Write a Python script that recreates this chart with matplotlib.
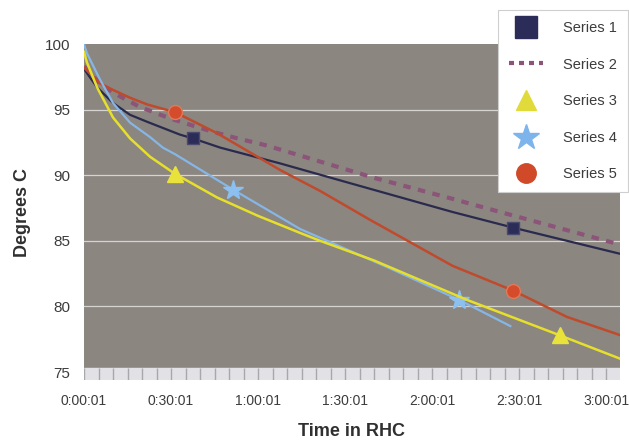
import numpy as np
import matplotlib
matplotlib.use("Agg")
from matplotlib import pyplot as plt
from matplotlib.lines import Line2D

plt.rcParams["font.family"] = ["Liberation Sans", "DejaVu Sans"]

# Data (cas v minutach, teplota ve stupnich C)
t1 = [0, 4.5, 10, 15.9, 22, 33, 37.6, 47, 67.6, 90, 127, 148, 185]
s1 = [98.1, 96.7, 95.5, 94.6, 94.05, 93.1, 92.8, 92.1, 90.9, 89.5, 87.2, 86.0, 84.0]
m1 = [6, 11]  # indexy znacek

t2 = [0, 5, 10, 19.3, 30, 44.5, 53, 62.4, 79, 100, 127, 143.4, 185]
s2 = [98.3, 97.1, 96.3, 95.2, 94.3, 93.3, 92.8, 92.3, 91.2, 89.8, 88.2, 87.2, 84.7]

t3 = [0, 1, 4.5, 10, 15.9, 22.8, 31.4, 45.9, 60, 74.5, 81.4, 100, 132, 164, 185]
s3 = [99.4, 98.6, 96.7, 94.4, 92.8, 91.4, 90.1, 88.3, 86.9, 85.6, 85.0, 83.5, 80.5, 77.8, 76.0]
m3 = [6, 13]

t4 = [0, 1, 5.5, 10, 15.9, 22.8, 27.2, 31.4, 51.4, 74.5, 104.5, 129.3, 147]
s4 = [100.0, 99.3, 97.3, 95.5, 94.0, 92.9, 92.1, 91.6, 88.9, 85.9, 83.0, 80.5, 78.5]
m4 = [8, 11]

t5 = [0, 5.5, 10, 15.9, 21.7, 31.4, 45.9, 67.6, 81.4, 98.6, 127, 148, 166.5, 185]
s5 = [98.2, 97.0, 96.5, 95.9, 95.4, 94.8, 93.2, 90.4, 88.8, 86.6, 83.1, 81.2, 79.2, 77.8]
m5 = [5, 11]

serie = ["Series 1", "Series 2", "Series 3", "Series 4", "Series 5"]
x_ticky = [0, 30, 60, 90, 120, 150, 180]
x_popisky = ["0:00:01", "0:30:01", "1:00:01", "1:30:01", "2:00:01", "2:30:01", "3:00:01"]
y_ticky = [75, 80, 85, 90, 95, 100]

# Barvy
c1 = "#2a2a4e"
c2 = "#8c5478"
c3 = "#e6df2c"
c4 = "#86b6e6"
c5 = "#c04a2c"
pozadi = "#8b8680"
text_barva = "#3c3c3c"

fig = plt.figure(figsize=(6.29, 4.42), dpi=100)
ax = fig.add_axes([84 / 629, 1 - 380 / 442, 536 / 629, 336 / 442])
ymin = 100 - 336 / 13.12
ax.set_xlim(0, 184.8)
ax.set_ylim(ymin, 100)

# Pozadi grafu a pruh s drobnymi dilky
ax.axhspan(75.3, 100, color=pozadi, zorder=0)
ax.axhspan(ymin, 75.3, color="#e2e2e6", zorder=0)
ax.vlines(np.arange(0, 185, 5), ymin, 75.3, color="#a8a8ac", lw=1, zorder=1)
for y in [80, 85, 90, 95]:
    ax.axhline(y, color="#d6d4d0", lw=0.9, zorder=1)

ax.plot(t2, s2, color=c2, lw=3, dashes=(1.8, 1.8), zorder=3)
ax.plot(t1, s1, color=c1, lw=1.6, zorder=4, marker="s", markevery=m1,
        ms=9, mfc="#2c2c58", mec="#4a4a70")
ax.plot(t5, s5, color=c5, lw=1.8, zorder=4, marker="o", markevery=m5,
        ms=10, mfc="#d44c2c", mec="#e07a5a")
ax.plot(t4, s4, color=c4, lw=1.6, zorder=5, marker="*", markevery=m4,
        ms=15, mfc="#8cc0f0", mec="#8cc0f0")
ax.plot(t3, s3, color=c3, lw=1.8, zorder=5, marker="^", markevery=m3,
        ms=11, mfc="#e8e23a", mec="#e8e23a")

for s in ax.spines.values():
    s.set_visible(False)
ax.set_xticks(x_ticky)
ax.set_xticklabels(x_popisky)
ax.set_yticks(y_ticky)
ax.tick_params(axis="both", length=0, colors=text_barva)
ax.tick_params(axis="x", labelsize=10, pad=10)
ax.tick_params(axis="y", labelsize=11, pad=10)
ax.set_xlabel("Time in RHC", fontsize=13, fontweight="bold", color="#303030", labelpad=11)
ax.set_ylabel("Degrees C", fontsize=13, fontweight="bold", color="#303030", labelpad=10)

# Legenda
handly = [
    Line2D([], [], ls="none", marker="s", ms=16, mfc="#2c2c58", mec="#2c2c58"),
    Line2D([], [], color=c2, lw=3, dashes=(1.2, 1.2)),
    Line2D([], [], ls="none", marker="^", ms=15, mfc="#e0db3a", mec="#e0db3a"),
    Line2D([], [], ls="none", marker="*", ms=19, mfc="#7eb4ec", mec="#7eb4ec"),
    Line2D([], [], ls="none", marker="o", ms=14, mfc="#d04a2a", mec="#d04a2a"),
]
leg = fig.legend(handly, serie, loc="upper right", bbox_to_anchor=(628 / 629, 1 - 10 / 442),
                 borderaxespad=0, fontsize=10.5, labelspacing=1.55, handlelength=2.3,
                 handletextpad=1.4, borderpad=0.75, fancybox=False, framealpha=1,
                 edgecolor="#cfcfcf", labelcolor=text_barva)
leg.get_frame().set_linewidth(0.8)

fig.savefig("out.png", dpi=100)
